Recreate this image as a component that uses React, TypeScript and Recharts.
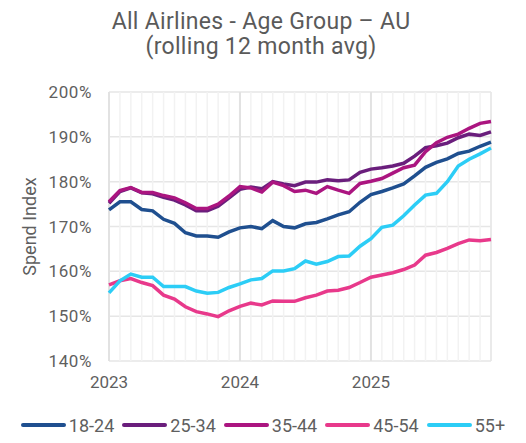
import React from "react";
import {
  LineChart,
  Line,
  XAxis,
  YAxis,
  CartesianGrid,
  ReferenceLine,
  Legend,
} from "recharts";

// Jan 2023 .. Dec 2025, one point per month
const months = [
  "2023-01", "2023-02", "2023-03", "2023-04", "2023-05", "2023-06",
  "2023-07", "2023-08", "2023-09", "2023-10", "2023-11", "2023-12",
  "2024-01", "2024-02", "2024-03", "2024-04", "2024-05", "2024-06",
  "2024-07", "2024-08", "2024-09", "2024-10", "2024-11", "2024-12",
  "2025-01", "2025-02", "2025-03", "2025-04", "2025-05", "2025-06",
  "2025-07", "2025-08", "2025-09", "2025-10", "2025-11", "2025-12",
];

const yearTicks = [0, 12, 24];
const yearLabels = ["2023", "2024", "2025"];
const yTicks = [140, 150, 160, 170, 180, 190, 200];

const age1824 = [
  173.7, 175.5, 175.5, 173.8, 173.5, 171.6, 170.7, 168.6, 167.9, 167.9, 167.6, 168.8,
  169.7, 170.0, 169.5, 171.3, 170.0, 169.7, 170.6, 170.9, 171.7, 172.6, 173.3, 175.4,
  177.1, 177.8, 178.6, 179.5, 181.3, 183.2, 184.3, 185.1, 186.3, 186.8, 187.9, 188.8,
];
const age2534 = [
  175.2, 177.8, 178.6, 177.5, 177.3, 176.5, 175.9, 174.8, 173.5, 173.5, 174.5, 176.4,
  178.3, 178.8, 178.4, 180.0, 179.5, 179.1, 179.9, 179.9, 180.4, 180.2, 180.4, 182.1,
  182.8, 183.1, 183.5, 184.1, 185.7, 187.6, 188.0, 188.6, 189.8, 190.6, 190.3, 191.1,
];
const age3544 = [
  175.5, 178.0, 178.7, 177.6, 177.6, 176.9, 176.4, 175.3, 174.0, 174.0, 175.0, 176.8,
  178.9, 178.6, 177.7, 179.9, 179.1, 177.8, 178.1, 177.4, 178.9, 178.1, 177.4, 179.6,
  180.1, 180.7, 181.9, 183.1, 183.7, 186.7, 188.7, 189.9, 190.6, 191.9, 193.0, 193.4,
];
const age4554 = [
  157.0, 157.9, 158.4, 157.5, 156.8, 154.7, 153.8, 152.1, 151.0, 150.5, 149.9, 151.2,
  152.2, 152.9, 152.5, 153.4, 153.3, 153.3, 154.1, 154.7, 155.6, 155.8, 156.4, 157.5,
  158.7, 159.2, 159.7, 160.4, 161.4, 163.6, 164.2, 165.1, 166.2, 167.0, 166.8, 167.1,
];
const age55 = [
  155.2, 157.9, 159.4, 158.7, 158.7, 156.6, 156.6, 156.6, 155.6, 155.1, 155.3, 156.4,
  157.2, 158.1, 158.4, 160.1, 160.1, 160.6, 162.3, 161.6, 162.2, 163.3, 163.4, 165.6,
  167.3, 169.8, 170.3, 172.4, 174.8, 177.0, 177.4, 180.0, 183.5, 185.0, 186.2, 187.5,
];

const series = [
  { key: "18-24", values: age1824, color: "#1f4f8f" },
  { key: "25-34", values: age2534, color: "#6a1e7c" },
  { key: "35-44", values: age3544, color: "#ab1580" },
  { key: "45-54", values: age4554, color: "#e8398b" },
  { key: "55+", values: age55, color: "#2ccdf6" },
];

const data = months.map((m, i) => {
  const row: Record<string, number | string> = { t: i, month: m };
  series.forEach((s) => {
    row[s.key] = s.values[i];
  });
  return row;
});

const FONT = "Roboto, 'DejaVu Sans', sans-serif";
const TEXT = "#5f5f5f";

const LegendContent = () => (
  <div
    style={{
      display: "flex",
      justifyContent: "center",
      alignItems: "center",
      height: 30,
      whiteSpace: "nowrap",
      fontFamily: FONT,
      fontSize: 18,
      color: TEXT,
    }}
  >
    {series.map((s, i) => (
      <div
        key={s.key}
        style={{
          display: "flex",
          alignItems: "center",
          marginRight: i < series.length - 1 ? 8 : 0,
        }}
      >
        <svg width={45} height={8} style={{ marginRight: 3 }}>
          <line
            x1={2}
            y1={4}
            x2={43}
            y2={4}
            stroke={s.color}
            strokeWidth={4}
            strokeLinecap="round"
          />
        </svg>
        <span>{s.key}</span>
      </div>
    ))}
  </div>
);

export default function App() {
  return (
    <div
      style={{
        position: "absolute",
        left: 0,
        top: 0,
        width: 526,
        height: 443,
        background: "#fff",
      }}
    >
      <div
        style={{
          position: "absolute",
          left: 0,
          top: 9,
          width: 522,
          textAlign: "center",
          fontFamily: FONT,
          fontSize: 23,
          letterSpacing: 0.3,
          lineHeight: "25px",
          color: "#5a5a5a",
          zIndex: 2,
        }}
      >
        <div>All Airlines - Age Group – AU</div>
        <div>(rolling 12 month avg)</div>
      </div>
      <LineChart
        width={526}
        height={443}
        data={data}
        margin={{ top: 92, right: 35, left: 0, bottom: 3 }}
      >
        <CartesianGrid
          vertical={false}
          stroke="#e6e6e6"
          strokeWidth={1.5}
        />
        {months.map((m, i) => (
          <ReferenceLine
            key={m}
            x={i}
            stroke={i % 12 === 0 ? "#e2e2e2" : "#f2f2f2"}
            strokeWidth={i % 12 === 0 ? 2 : 1.5}
          />
        ))}
        <ReferenceLine x={months.length - 1} stroke="#e6e6e6" strokeWidth={1.5} />
        <XAxis
          dataKey="t"
          type="number"
          domain={[0, months.length - 1]}
          ticks={yearTicks}
          tickFormatter={(v: number) => yearLabels[yearTicks.indexOf(v)]}
          axisLine={false}
          tickLine={false}
          tickSize={0}
          tickMargin={15}
          height={49}
          tick={{ fill: TEXT, fontSize: 17, fontFamily: FONT }}
        />
        <YAxis
          type="number"
          domain={[140, 200]}
          ticks={yTicks}
          tickFormatter={(v: number) => `${v}%`}
          axisLine={false}
          tickLine={false}
          tickSize={0}
          tickMargin={17}
          width={109}
          tick={{ fill: TEXT, fontSize: 17, fontFamily: FONT, letterSpacing: 0.6 }}
          label={{
            value: "Spend Index",
            angle: -90,
            position: "insideLeft",
            offset: 30,
            style: {
              fill: TEXT,
              fontSize: 18,
              fontFamily: FONT,
              textAnchor: "middle",
            },
          }}
        />
        <Legend
          verticalAlign="bottom"
          content={<LegendContent />}
          wrapperStyle={{ height: 30, width: 526, left: 0 }}
        />
        {series.map((s) => (
          <Line
            key={s.key}
            dataKey={s.key}
            type="linear"
            stroke={s.color}
            strokeWidth={3.5}
            dot={false}
            activeDot={false}
            isAnimationActive={false}
          />
        ))}
      </LineChart>
    </div>
  );
}
